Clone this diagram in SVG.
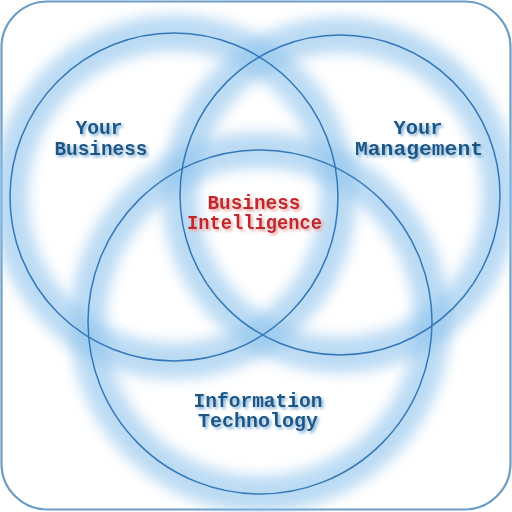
<svg xmlns="http://www.w3.org/2000/svg" width="512" height="512" viewBox="0 0 512 512">
<defs>
<filter id="glow" x="-20%" y="-20%" width="140%" height="140%"><feGaussianBlur stdDeviation="7"/></filter>
<filter id="tshadow" x="-10%" y="-30%" width="120%" height="160%"><feGaussianBlur in="SourceAlpha" stdDeviation="1.8" result="b"/><feOffset in="b" dx="1.5" dy="1.5" result="o"/><feFlood flood-color="#7fb0d8" result="c"/><feComposite in="c" in2="o" operator="in" result="s"/><feMerge><feMergeNode in="s"/><feMergeNode in="SourceGraphic"/></feMerge></filter>
<filter id="rshadow" x="-10%" y="-30%" width="120%" height="160%"><feGaussianBlur in="SourceAlpha" stdDeviation="1.8" result="b"/><feOffset in="b" dx="1.5" dy="1.5" result="o"/><feFlood flood-color="#e9a0a0" result="c"/><feComposite in="c" in2="o" operator="in" result="s"/><feMerge><feMergeNode in="s"/><feMergeNode in="SourceGraphic"/></feMerge></filter>
</defs>
<style>
.halo{fill:none;stroke:#8ec3ec;stroke-width:36;opacity:0.6;filter:url(#glow)}
.ring{fill:none;stroke:#3479ba;stroke-width:1.5}
.lbl{font-family:"Liberation Mono","DejaVu Sans Mono",monospace;font-weight:bold;font-size:20.5px;text-anchor:middle;fill:#1d5684;filter:url(#tshadow)}
.red{fill:#c0262a;filter:url(#rshadow)}
</style>
<rect x="0" y="0" width="512" height="512" fill="#ffffff"/>
<rect x="1.5" y="1.5" width="509" height="508" rx="46" ry="46" fill="none" stroke="#6c9cc4" stroke-width="2.2"/>
<g id="connectors"></g>
<g id="halos">
<circle class="halo" cx="174" cy="197" r="164"/>
<circle class="halo" cx="340" cy="195" r="160"/>
<circle class="halo" cx="260" cy="322" r="172"/>
</g>
<g id="circle-business"><circle class="ring" cx="174" cy="197" r="164"/></g>
<g id="circle-management"><circle class="ring" cx="340" cy="195" r="160"/></g>
<g id="circle-it"><circle class="ring" cx="260" cy="322" r="172"/></g>
<g id="label-business"><text class="lbl" x="99" y="134" textLength="47" lengthAdjust="spacingAndGlyphs">Your</text><text class="lbl" x="101" y="155" textLength="93" lengthAdjust="spacingAndGlyphs">Business</text></g>
<g id="label-management"><text class="lbl" x="418" y="134" textLength="49" lengthAdjust="spacingAndGlyphs">Your</text><text class="lbl" x="419" y="155" textLength="128" lengthAdjust="spacingAndGlyphs">Management</text></g>
<g id="label-bi"><text class="lbl red" x="254" y="209" textLength="93" lengthAdjust="spacingAndGlyphs">Business</text><text class="lbl red" x="254.5" y="229" textLength="135" lengthAdjust="spacingAndGlyphs">Intelligence</text></g>
<g id="label-it"><text class="lbl" x="258" y="407" textLength="129" lengthAdjust="spacingAndGlyphs">Information</text><text class="lbl" x="258" y="427" textLength="120" lengthAdjust="spacingAndGlyphs">Technology</text></g>
</svg>
